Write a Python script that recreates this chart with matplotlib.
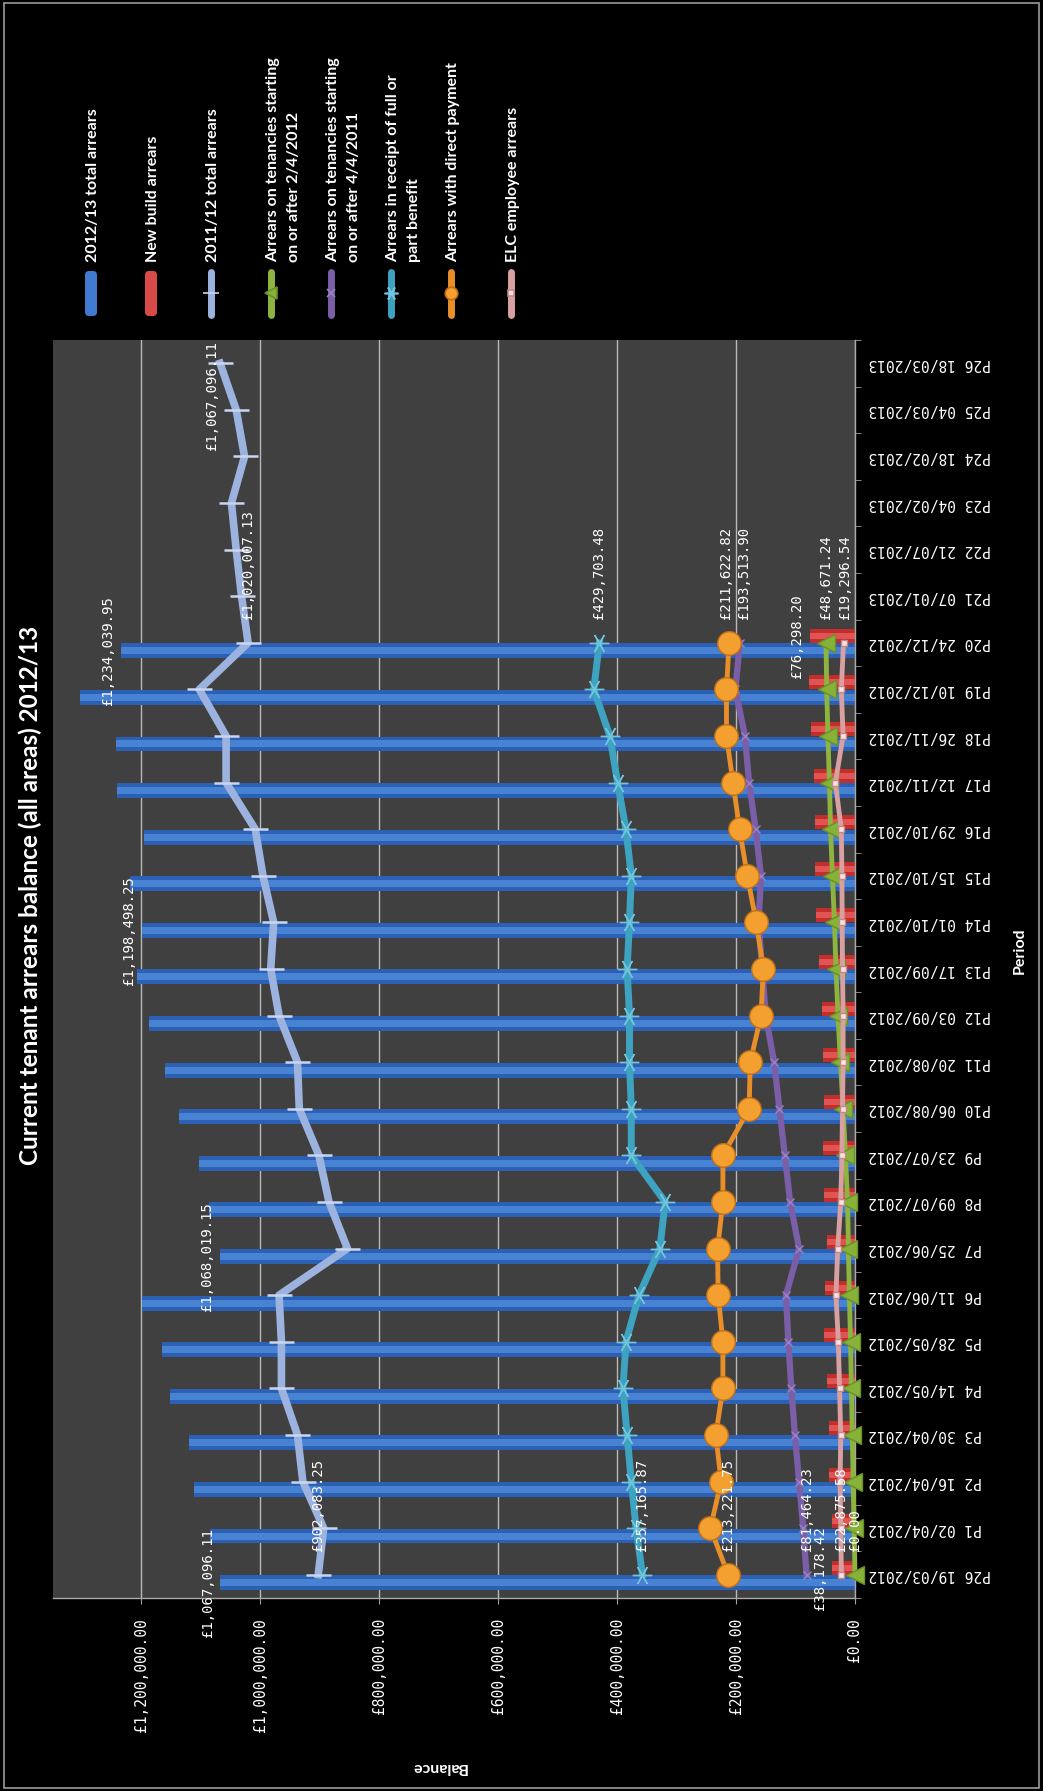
import numpy as np
import matplotlib
matplotlib.use('Agg')
import matplotlib.pyplot as plt
from matplotlib.patches import FancyBboxPatch, Rectangle

periods = ['P26 19/03/2012', 'P1 02/04/2012', 'P2 16/04/2012', 'P3 30/04/2012',
           'P4 14/05/2012', 'P5 28/05/2012', 'P6 11/06/2012', 'P7 25/06/2012',
           'P8 09/07/2012', 'P9 23/07/2012', 'P10 06/08/2012', 'P11 20/08/2012',
           'P12 03/09/2012', 'P13 17/09/2012', 'P14 01/10/2012', 'P15 15/10/2012',
           'P16 29/10/2012', 'P17 12/11/2012', 'P18 26/11/2012', 'P19 10/12/2012',
           'P20 24/12/2012', 'P21 07/01/2013', 'P22 21/07/2013', 'P23 04/02/2013',
           'P24 18/02/2013', 'P25 04/03/2013', 'P26 18/03/2013']

total_1213 = [1067096.11, 1084000, 1111000, 1120000, 1151000, 1164000, 1198000,
              1068019.15, 1086000, 1102000, 1136000, 1160000, 1186000, 1207000,
              1198498.25, 1218000, 1195000, 1240000, 1242000, 1302000, 1234039.95]
new_build = [38178.42, 38500, 43000, 43000, 47000, 52000, 50000, 47000, 52000, 53000,
             52000, 53000, 56000, 60000, 65000, 67000, 68000, 69000, 74000, 78000, 76298.20]
total_1112 = [902083.25, 893000, 928000, 937000, 964000, 964000, 968000, 853000, 884000,
              901000, 934000, 937000, 968000, 982000, 977000, 995000, 1008000, 1057000,
              1057000, 1102000, 1020007.13, 1031000, 1040000, 1048000, 1026000, 1040000,
              1067096.11]
tenancies_2012 = [0.00, 1500, 3000, 4500, 6000, 7500, 9500, 11000, 12500, 16000, 20000,
                  24500, 28500, 32000, 34500, 38000, 41000, 43000, 45500, 47500, 48671.24]
tenancies_2011 = [81464.23, 87000, 94000, 101000, 107000, 112000, 116000, 94000, 109000,
                  118000, 127000, 136000, 150000, 156000, 162000, 158000, 167000, 178000,
                  185000, 201000, 193513.90]
benefit = [357165.87, 368000, 376000, 383000, 390000, 385000, 363000, 328000, 319000,
           376000, 376000, 379000, 379000, 383000, 379000, 376000, 385000, 399000,
           412000, 439000, 429703.48]
direct_payment = [213221.75, 243000, 225000, 234000, 222000, 222000, 230000, 231000,
                  222000, 222000, 178000, 176000, 158000, 154000, 166000, 181000, 194000,
                  205000, 216000, 216000, 211622.82]
employee = [22875.58, 24000, 25000, 24000, 26000, 28000, 32000, 29000, 24000, 22000,
            21000, 20000, 20000, 21000, 21500, 22000, 23000, 33000, 20000, 23000, 19296.54]

legend_names = ['2012/13 total arrears', 'New build arrears', '2011/12 total arrears',
                'Arrears on tenancies starting\non or after 2/4/2012',
                'Arrears on tenancies starting\non or after 4/4/2011',
                'Arrears in receipt of full or\npart benefit',
                'Arrears with direct payment', 'ELC employee arrears']
value_ticks = [0, 200000, 400000, 600000, 800000, 1000000, 1200000]

MONO = 'DejaVu Sans Mono'
SANS = 'Lato'


def money(v):
    return '£{:,.2f}'.format(v)


W, H = 1043, 1791
fig = plt.figure(figsize=(W / 100, H / 100), dpi=100, facecolor='black')
ax = fig.add_axes([53 / W, 1 - 1598 / H, (855 - 53) / W, (1598 - 340) / H])
ax.set_facecolor('#404040')

n = len(periods)
idx = np.arange(n)
k = np.arange(len(total_1213))

# bars (cylinder look: base + lighter core)
ax.barh(k - 0.17, total_1213, height=0.32, color='#2c60b4', zorder=2)
ax.barh(k - 0.17, total_1213, height=0.15, color='#4882d2', zorder=2.1)
ax.barh(k + 0.15, new_build, height=0.30, color='#c22e2a', zorder=2)
ax.barh(k + 0.15, new_build, height=0.13, color='#e05454', zorder=2.1)

# lines
ax.plot(total_1112, idx, color='#9db3df', lw=5.5, marker='_', ms=18, mew=1.8,
        mec='#c8d6f0', zorder=4, solid_joinstyle='round')
ax.plot(tenancies_2011, k, color='#7b5ea8', lw=4.5, marker='x', ms=6,
        mec='#9a80c4', zorder=4)
ax.plot(benefit, k, color='#3ea3c0', lw=5, marker=(6, 2, 90), ms=14, mew=1,
        mec='#70c4dc', zorder=4)
ax.plot(tenancies_2012, k, color='#8db43e', lw=3.5, marker='<', ms=13,
        mfc='#86b23a', mec='#6a9028', zorder=5, clip_on=False)
ax.plot(employee, k, color='#d8a0a0', lw=3.5, marker='s', ms=5, mfc='#f6e2e2',
        mec='#c48888', zorder=5)
ax.plot(direct_payment, k, color='#e88f2a', lw=3.5, marker='o', ms=17,
        mfc='#f4a030', mec='#c07016', mew=1, zorder=6)

# axes
ax.set_xlim(1347900, 0)
ax.set_ylim(-0.5, n - 0.5)
ax.set_xticks(value_ticks)
ax.set_xticklabels([money(v) for v in value_ticks], rotation=90, family=MONO,
                   fontsize=10.5, color='white')
ax.grid(axis='x', color='#b8b8b8', lw=1)
ax.set_axisbelow(True)
ax.tick_params(axis='x', length=4.5, color='#a0a0a0', pad=10)

ax.yaxis.tick_right()
ax.set_yticks(idx)
ax.set_yticklabels(periods, rotation=180, family=MONO, fontsize=10.5, color='white')
for lbl in ax.get_yticklabels():
    lbl.set_va('center')
ax.set_yticks(np.arange(-0.5, n, 1), minor=True)
ax.tick_params(axis='y', which='major', length=0, pad=9.5)
ax.tick_params(axis='y', which='minor', length=4.5, color='#a0a0a0')
for s in ['left', 'top']:
    ax.spines[s].set_visible(False)
for s in ['bottom', 'right']:
    ax.spines[s].set_color('#a8a8a8')
    ax.spines[s].set_linewidth(1)

# data labels
lab = dict(color='white', family=MONO, fontsize=10, rotation=90,
           rotation_mode='anchor', textcoords='offset points', zorder=8)
for i in [0, 7, 14, 20]:
    ax.annotate(money(total_1213[i]), (total_1213[i], i - 0.17), xytext=(-4, 0),
                ha='center', va='bottom', **lab)
line_series = [(total_1112, 0), (tenancies_2012, 0), (tenancies_2011, 3),
               (benefit, 0), (direct_payment, -2), (employee, 1)]
for i in [0, 20]:
    ax.annotate(money(new_build[i]), (new_build[i], i + 0.15), xytext=(-4, 0),
                ha='center', va='bottom', **lab)
    for series, dx in line_series:
        ax.annotate(money(series[i]), (series[i], i),
                    xytext=(dx if i == 20 else 0, 17),
                    ha='left', va='center', **lab)
ax.annotate(money(total_1112[-1]), (total_1112[-1], n - 1), xytext=(-6, -23),
            ha='center', va='center', **lab)

# overlay for titles, legend, frame (pixel coordinates)
ov = fig.add_axes([0, 0, 1, 1])
ov.set_xlim(0, W)
ov.set_ylim(H, 0)
ov.axis('off')
ov.patch.set_visible(False)

ov.add_patch(Rectangle((4, 3), W - 8, H - 6, fill=False, ec='#9a9a9a', lw=1.2))
ov.text(30, 895, 'Current tenant arrears balance (all areas) 2012/13', rotation=90,
        ha='center', va='center', color='white', fontsize=17.5, weight='bold',
        family=SANS)
ov.text(439, 1767, 'Balance', rotation=180, ha='center', va='center',
        color='white', fontsize=11.5, weight='bold', family=SANS)
ov.text(1020, 951, 'Period', rotation=90, ha='center', va='center',
        color='white', fontsize=11.5, weight='bold', family=SANS)

legend_styles = [
    dict(kind='bar', color='#3f7ad0'),
    dict(kind='bar', color='#d84a48'),
    dict(kind='line', color='#9db3df', marker='_', ms=12, mfc='#c8d6f0', mec='#c8d6f0'),
    dict(kind='line', color='#8db43e', marker='<', ms=9, mfc='#86b23a', mec='#6a9028'),
    dict(kind='line', color='#7b5ea8', marker='x', ms=6, mfc='#9a80c4', mec='#9a80c4'),
    dict(kind='line', color='#3ea3c0', marker=(6, 2, 90), ms=10, mfc='#70c4dc', mec='#70c4dc'),
    dict(kind='line', color='#e88f2a', marker='o', ms=9, mfc='#f4a030', mec='#c07016'),
    dict(kind='line', color='#d8a0a0', marker='s', ms=4, mfc='#f6e2e2', mec='#c48888'),
]
for j, (name, st) in enumerate(zip(legend_names, legend_styles)):
    x = 91 + 60 * j
    if st['kind'] == 'bar':
        ov.add_patch(FancyBboxPatch((x - 5, 272), 10, 43,
                                    boxstyle='round,pad=1,rounding_size=4',
                                    fc=st['color'], ec='none'))
    else:
        ov.plot([x, x], [272, 315], color=st['color'], lw=5,
                solid_capstyle='round')
        ov.plot([x], [293], ls='none', marker=st['marker'], ms=st['ms'],
                mfc=st['mfc'], mec=st['mec'], mew=1.2)
    ov.text(x - 5, 262, name, rotation=90, rotation_mode='anchor', ha='left',
            va='top', color='white', fontsize=11.5, weight='bold', family=SANS,
            linespacing=1.6)

fig.savefig('out.png', dpi=100, facecolor='black')
